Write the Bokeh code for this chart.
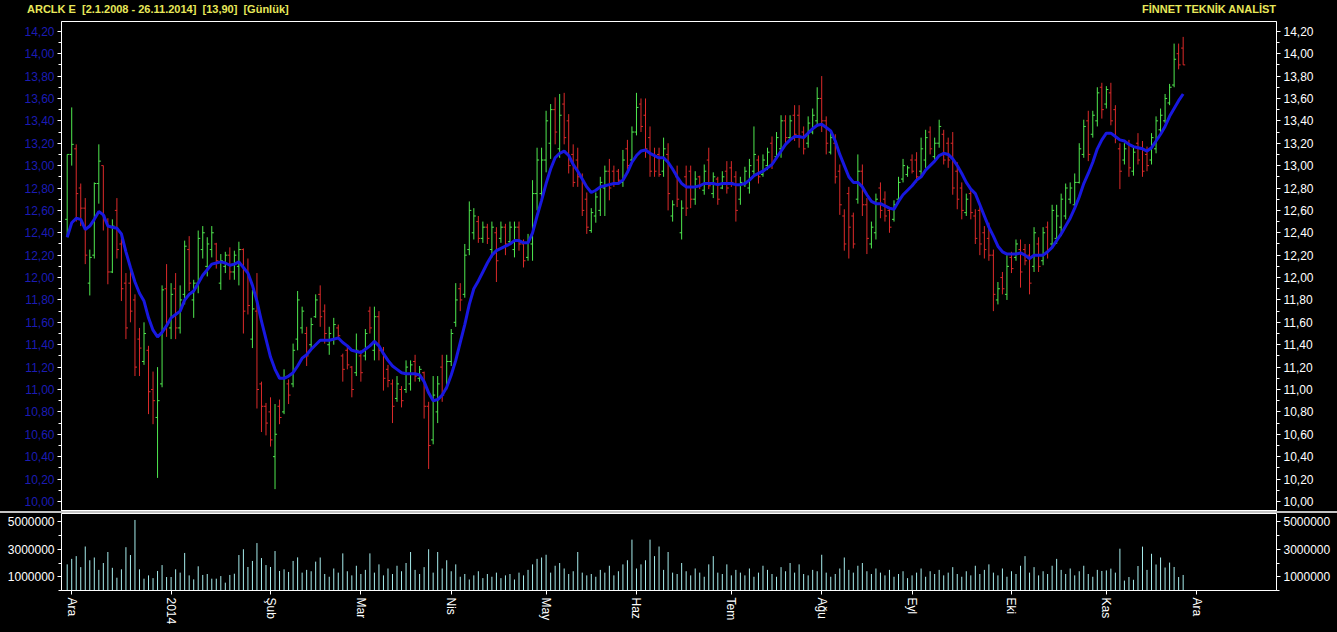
from bokeh.plotting import figure
from bokeh.models import ColumnDataSource, FixedTicker, LinearAxis, Div, Range1d
from bokeh.layouts import column
from bokeh.embed import file_html
from bokeh.resources import INLINE

# ---------------- data ----------------
opens = [
    12.52, 13.10, 13.15, 12.80, 12.62, 11.95, 12.20, 12.84, 13.00, 12.50,
    12.05, 12.60, 12.30, 11.95, 11.95, 11.80, 11.45, 11.25, 11.35, 11.00,
    10.75, 11.05, 11.90, 11.55, 11.90, 11.55, 11.85, 12.25, 11.80, 11.95,
    12.25, 12.10, 12.25, 12.30, 11.95, 12.10, 12.20, 12.05, 12.10, 12.25,
    12.05, 11.45, 11.70, 11.05, 10.85, 10.80, 10.40, 10.85, 10.80, 11.05,
    11.05, 11.45, 11.55, 11.50, 11.40, 11.65, 11.85, 11.70, 11.40, 11.45,
    11.55, 11.30, 11.35, 11.20, 11.15, 11.30, 11.30, 11.70, 11.35, 11.65,
    11.35, 11.18, 11.05, 10.92, 11.00, 11.00, 11.05, 11.25, 11.10, 11.15,
    10.85, 10.55, 10.80, 11.20, 11.00, 11.25, 11.60, 11.90, 11.85, 12.25,
    12.40, 12.50, 12.35, 12.45, 12.25, 12.40, 12.35, 12.45, 12.32, 12.25,
    12.45, 12.30, 12.18, 12.30, 12.75, 12.75, 13.05, 13.20, 13.50, 13.15,
    13.55, 13.40, 13.10, 13.05, 12.90, 12.70, 12.42, 12.55, 12.60, 12.80,
    12.95, 12.95, 12.95, 12.85, 13.15, 13.05, 13.30, 13.55, 13.45, 13.25,
    13.10, 13.10, 12.95, 13.10, 12.55, 12.90, 12.40, 12.90, 12.95, 12.70,
    12.90, 12.78, 13.05, 12.75, 12.88, 12.80, 12.95, 12.98, 12.90, 12.70,
    12.83, 12.80, 12.95, 13.05, 12.92, 13.00, 13.20, 13.08, 13.15, 13.40,
    13.25, 13.45, 13.45, 13.30, 13.20, 13.30, 13.40, 13.60, 13.40, 13.12,
    13.20, 12.95, 12.55, 12.75, 12.55, 12.70, 12.95, 12.65, 12.30, 12.40,
    12.80, 12.70, 12.60, 12.52, 12.70, 12.88, 12.92, 13.05, 13.05, 12.95,
    13.05, 13.30, 13.08, 13.20, 13.28, 13.20, 13.20, 12.95, 12.80, 12.58,
    12.75, 12.55, 12.60, 12.40, 12.35, 12.20, 11.80, 12.00, 11.85, 12.18,
    12.18, 12.25, 12.25, 12.20, 12.10, 12.30, 12.15, 12.45, 12.30, 12.35,
    12.45, 12.55, 12.70, 12.65, 12.85, 13.10, 13.40, 13.28, 13.40, 13.70,
    13.55, 13.65, 13.50, 13.15, 13.05, 13.20, 12.95, 13.20, 13.15, 13.10,
    13.05, 13.15, 13.32, 13.40, 13.56, 13.72, 14.00, 14.05,
]
highs = [
    13.10, 13.52, 13.19, 12.84, 12.71, 12.25, 12.85, 13.19, 13.00, 12.53,
    12.52, 12.71, 12.40, 12.04, 12.12, 11.85, 11.55, 11.60, 11.39, 11.16,
    11.20, 11.93, 12.12, 11.95, 12.04, 11.93, 12.33, 12.37, 11.98, 12.42,
    12.46, 12.36, 12.46, 12.31, 12.21, 12.23, 12.27, 12.24, 12.32, 12.26,
    12.17, 11.89, 12.04, 11.07, 10.88, 10.93, 10.87, 10.91, 11.18, 11.09,
    11.41, 11.88, 11.74, 11.56, 11.64, 11.85, 11.93, 11.76, 11.56, 11.64,
    11.58, 11.32, 11.38, 11.21, 11.50, 11.35, 11.54, 11.74, 11.74, 11.70,
    11.38, 11.22, 11.09, 11.12, 11.03, 11.26, 11.26, 11.31, 11.21, 11.16,
    10.89, 11.12, 11.12, 11.31, 11.31, 11.54, 11.95, 11.95, 12.30, 12.68,
    12.62, 12.55, 12.50, 12.48, 12.50, 12.45, 12.50, 12.48, 12.50, 12.50,
    12.50, 12.34, 12.39, 12.87, 13.16, 13.16, 13.49, 13.55, 13.61, 13.64,
    13.65, 13.46, 13.19, 13.16, 12.93, 12.76, 12.62, 12.76, 12.90, 13.00,
    13.06, 13.00, 12.97, 13.14, 13.23, 13.35, 13.65, 13.60, 13.60, 13.35,
    13.16, 13.16, 13.25, 13.20, 12.69, 13.00, 12.69, 13.00, 13.00, 12.95,
    12.91, 13.01, 13.16, 12.94, 12.90, 12.95, 13.04, 13.04, 12.95, 12.90,
    12.99, 13.06, 13.35, 13.09, 13.10, 13.16, 13.26, 13.30, 13.45, 13.45,
    13.45, 13.54, 13.54, 13.35, 13.44, 13.51, 13.70, 13.80, 13.44, 13.30,
    13.28, 13.01, 12.61, 12.81, 12.58, 13.10, 13.01, 12.71, 12.50, 12.75,
    12.85, 12.77, 12.63, 12.69, 12.90, 13.06, 13.00, 13.10, 13.12, 13.25,
    13.32, 13.35, 13.25, 13.41, 13.32, 13.25, 13.30, 13.03, 12.85, 12.75,
    12.79, 12.61, 12.65, 12.46, 12.49, 12.25, 11.96, 12.05, 12.20, 12.23,
    12.34, 12.34, 12.30, 12.30, 12.45, 12.36, 12.45, 12.50, 12.65, 12.65,
    12.75, 12.84, 12.85, 12.93, 13.20, 13.41, 13.49, 13.49, 13.70, 13.74,
    13.71, 13.74, 13.54, 13.20, 13.20, 13.23, 13.17, 13.29, 13.22, 13.17,
    13.29, 13.44, 13.51, 13.64, 13.73, 14.09, 14.09, 14.15,
]
lows = [
    12.36, 13.00, 12.50, 12.46, 12.12, 11.84, 12.17, 12.66, 12.42, 11.94,
    12.04, 12.17, 11.79, 11.45, 11.60, 11.12, 11.12, 11.22, 10.78, 10.69,
    10.21, 11.02, 11.47, 11.45, 11.45, 11.50, 11.76, 11.88, 11.64, 11.86,
    12.17, 12.01, 12.18, 12.08, 11.89, 12.04, 11.98, 11.98, 11.93, 11.50,
    11.67, 11.37, 10.83, 10.62, 10.59, 10.49, 10.11, 10.69, 10.78, 10.87,
    11.02, 11.35, 11.50, 11.21, 11.35, 11.64, 11.56, 11.41, 11.31, 11.40,
    11.45, 11.07, 11.18, 10.93, 11.12, 11.07, 11.26, 11.50, 11.26, 11.26,
    10.99, 11.02, 10.70, 10.89, 10.84, 10.97, 10.99, 11.07, 11.07, 10.74,
    10.29, 10.51, 10.70, 10.89, 11.00, 11.21, 11.56, 11.70, 11.82, 12.20,
    12.34, 12.31, 12.31, 12.30, 12.18, 11.96, 12.31, 12.20, 12.31, 12.18,
    12.24, 12.09, 12.15, 12.15, 12.60, 12.71, 12.94, 13.06, 13.19, 13.07,
    13.19, 12.93, 12.81, 12.81, 12.55, 12.39, 12.40, 12.49, 12.55, 12.55,
    12.69, 12.81, 12.84, 12.81, 12.95, 13.03, 13.27, 13.30, 13.07, 12.90,
    12.90, 12.90, 12.90, 12.60, 12.50, 12.63, 12.34, 12.55, 12.62, 12.65,
    12.79, 12.74, 12.79, 12.71, 12.65, 12.79, 12.75, 12.81, 12.50, 12.65,
    12.81, 12.75, 12.90, 12.84, 12.90, 12.96, 12.97, 13.06, 13.07, 13.20,
    13.23, 13.22, 13.16, 13.10, 13.16, 13.28, 13.35, 13.30, 13.10, 13.10,
    12.84, 12.56, 12.24, 12.17, 12.26, 12.66, 12.55, 12.21, 12.26, 12.34,
    12.53, 12.50, 12.40, 12.50, 12.66, 12.85, 12.90, 12.93, 12.85, 12.90,
    12.98, 13.10, 13.04, 13.16, 13.01, 12.98, 12.74, 12.61, 12.52, 12.55,
    12.52, 12.30, 12.20, 12.17, 12.15, 11.70, 11.76, 11.85, 11.80, 12.04,
    12.15, 11.91, 12.11, 11.85, 12.05, 12.05, 12.11, 12.17, 12.27, 12.30,
    12.37, 12.52, 12.66, 12.63, 12.84, 13.07, 13.04, 13.25, 13.35, 13.42,
    13.51, 13.36, 13.20, 12.79, 13.01, 12.90, 12.91, 13.01, 12.90, 12.95,
    13.01, 13.11, 13.30, 13.38, 13.54, 13.70, 13.86, 13.90,
]
closes = [
    13.10, 13.19, 12.75, 12.62, 12.20, 12.18, 12.84, 13.04, 12.55, 12.05,
    12.46, 12.25, 11.90, 11.55, 11.70, 11.20, 11.37, 11.50, 10.98, 10.90,
    10.90, 11.89, 11.60, 11.85, 11.55, 11.80, 12.28, 11.95, 11.95, 12.35,
    12.40, 12.30, 12.40, 12.15, 12.15, 12.20, 12.05, 12.20, 12.25, 11.70,
    11.75, 11.72, 11.00, 10.85, 10.70, 10.55, 10.60, 10.75, 11.10, 10.95,
    11.35, 11.80, 11.70, 11.30, 11.58, 11.80, 11.65, 11.50, 11.50, 11.58,
    11.48, 11.18, 11.22, 11.00, 11.35, 11.15, 11.50, 11.55, 11.65, 11.35,
    11.10, 11.08, 10.85, 11.05, 10.90, 11.20, 11.22, 11.12, 11.18, 10.85,
    10.50, 10.95, 11.05, 10.95, 11.25, 11.50, 11.80, 11.80, 12.20, 12.60,
    12.55, 12.35, 12.45, 12.35, 12.45, 12.15, 12.45, 12.30, 12.45, 12.45,
    12.30, 12.15, 12.32, 12.75, 13.05, 13.05, 13.40, 13.50, 13.30, 13.45,
    13.25, 13.00, 12.85, 12.90, 12.60, 12.45, 12.58, 12.72, 12.85, 12.95,
    12.80, 12.85, 12.87, 13.05, 13.00, 13.30, 13.52, 13.35, 13.15, 12.95,
    12.95, 12.92, 13.15, 12.75, 12.65, 12.70, 12.62, 12.62, 12.70, 12.88,
    12.82, 12.95, 12.82, 12.90, 12.70, 12.90, 12.80, 12.85, 12.60, 12.85,
    12.95, 13.00, 13.10, 12.90, 13.05, 13.12, 13.02, 13.25, 13.40, 13.25,
    13.40, 13.28, 13.25, 13.15, 13.38, 13.45, 13.60, 13.40, 13.20, 13.25,
    12.90, 12.65, 12.30, 12.45, 12.30, 12.95, 12.65, 12.35, 12.45, 12.70,
    12.60, 12.55, 12.45, 12.65, 12.85, 13.00, 12.98, 12.95, 12.90, 13.15,
    13.25, 13.15, 13.20, 13.35, 13.05, 13.05, 12.80, 12.70, 12.60, 12.70,
    12.58, 12.35, 12.30, 12.25, 12.20, 11.85, 11.90, 11.90, 12.10, 12.08,
    12.30, 12.05, 12.15, 11.95, 12.40, 12.10, 12.40, 12.25, 12.60, 12.55,
    12.70, 12.80, 12.80, 12.85, 13.15, 13.35, 13.10, 13.45, 13.65, 13.50,
    13.68, 13.40, 13.25, 12.95, 13.15, 12.98, 13.12, 13.05, 12.95, 13.00,
    13.25, 13.40, 13.45, 13.60, 13.70, 13.95, 13.90, 13.90,
]
moving_avg = [
    12.36, 12.49, 12.53, 12.52, 12.43, 12.46, 12.52, 12.59, 12.56, 12.46,
    12.45, 12.44, 12.39, 12.23, 12.09, 11.96, 11.86, 11.79, 11.64, 11.53,
    11.47, 11.51, 11.57, 11.64, 11.67, 11.70, 11.80, 11.85, 11.88, 11.95,
    12.02, 12.07, 12.12, 12.13, 12.14, 12.13, 12.11, 12.12, 12.14, 12.09,
    12.04, 11.93, 11.79, 11.61, 11.45, 11.29, 11.18, 11.10, 11.10, 11.12,
    11.15, 11.21, 11.28, 11.31, 11.36, 11.40, 11.44, 11.44, 11.44, 11.45,
    11.46, 11.42, 11.39, 11.35, 11.34, 11.33, 11.36, 11.39, 11.43, 11.39,
    11.32, 11.26, 11.21, 11.18, 11.15, 11.14, 11.14, 11.14, 11.13, 11.07,
    10.97, 10.90, 10.91, 10.95, 11.02, 11.13, 11.26, 11.42, 11.58, 11.76,
    11.90, 11.97, 12.05, 12.13, 12.20, 12.24, 12.26, 12.28, 12.30, 12.33,
    12.33, 12.31, 12.31, 12.40, 12.55, 12.69, 12.84, 12.97, 13.07, 13.11,
    13.13, 13.09, 13.01, 12.95, 12.88, 12.81, 12.76, 12.78, 12.81, 12.82,
    12.83, 12.84, 12.84, 12.87, 12.94, 13.03, 13.09, 13.13, 13.14, 13.11,
    13.09, 13.07, 13.07, 13.03, 12.97, 12.90, 12.84, 12.81, 12.81, 12.81,
    12.82, 12.84, 12.84, 12.84, 12.83, 12.84, 12.84, 12.84, 12.83, 12.83,
    12.84, 12.87, 12.91, 12.93, 12.95, 12.98, 13.01, 13.07, 13.13, 13.19,
    13.23, 13.26, 13.26, 13.25, 13.29, 13.33, 13.36, 13.37, 13.34, 13.31,
    13.22, 13.10, 13.00, 12.90, 12.85, 12.85, 12.81, 12.74, 12.68, 12.66,
    12.66, 12.64, 12.62, 12.61, 12.68, 12.74, 12.78, 12.82, 12.87, 12.90,
    12.96, 13.00, 13.04, 13.09, 13.11, 13.10, 13.06, 13.00, 12.93, 12.85,
    12.79, 12.75, 12.65, 12.55, 12.45, 12.37, 12.28, 12.23, 12.21, 12.21,
    12.21, 12.22, 12.20, 12.17, 12.20, 12.20, 12.20, 12.23, 12.27, 12.33,
    12.39, 12.46, 12.53, 12.62, 12.72, 12.84, 12.93, 13.03, 13.15, 13.23,
    13.29, 13.29, 13.26, 13.23, 13.22, 13.19, 13.17, 13.16, 13.15, 13.13,
    13.16, 13.22, 13.28, 13.35, 13.44, 13.51, 13.58, 13.64,
]
volume_millions = [
    1.90, 2.30, 2.50, 1.70, 3.20, 2.20, 2.40, 1.50, 2.00, 2.80,
    1.65, 0.93, 1.54, 3.15, 2.58, 5.13, 1.54, 0.86, 1.10, 0.90,
    1.42, 1.85, 0.98, 0.98, 1.54, 1.30, 2.73, 1.10, 0.81, 1.76,
    1.13, 1.20, 0.86, 0.86, 1.05, 0.57, 1.13, 1.22, 2.58, 3.00,
    1.71, 2.15, 3.45, 2.36, 1.85, 1.71, 2.87, 1.42, 1.54, 1.35,
    2.15, 2.41, 1.30, 1.50, 1.40, 2.10, 2.40, 1.20, 1.00, 1.60,
    1.30, 2.70, 1.40, 1.10, 1.80, 1.20, 1.50, 2.70, 1.30, 1.90,
    1.10, 1.60, 1.20, 1.80, 1.40, 2.00, 2.80, 1.50, 1.20, 1.70,
    3.00, 1.30, 2.80, 1.60, 2.20, 1.40, 1.90, 1.00, 1.20, 0.80,
    1.10, 1.40, 0.90, 1.20, 1.00, 1.30, 0.90, 1.10, 1.20, 0.80,
    1.30, 1.10, 1.50, 1.90, 2.30, 2.40, 2.60, 1.30, 1.80, 2.00,
    1.60, 1.20, 1.40, 2.80, 1.30, 1.10, 1.20, 1.00, 1.50, 1.30,
    1.80, 1.10, 1.40, 1.90, 2.20, 3.70, 1.60, 1.90, 2.20, 3.70,
    2.50, 3.20, 1.50, 2.80, 1.30, 1.20, 2.00, 1.40, 1.10, 1.60,
    1.30, 1.00, 1.90, 2.50, 1.30, 1.20, 1.90, 1.10, 1.50, 1.30,
    1.10, 1.60, 1.00, 1.30, 1.80, 1.50, 1.20, 1.00, 1.70, 1.40,
    2.00, 1.30, 1.90, 1.20, 1.10, 1.50, 1.40, 2.60, 1.30, 1.00,
    1.20, 1.60, 2.40, 1.50, 1.30, 1.80, 2.00, 1.40, 1.20, 1.60,
    1.30, 1.10, 1.50, 1.00, 1.20, 1.40, 0.90, 1.10, 1.30, 1.60,
    1.00, 1.40, 1.20, 1.50, 1.10, 1.30, 1.70, 1.20, 1.00, 1.40,
    1.10, 1.80, 1.20, 1.50, 1.90, 1.30, 1.10, 1.60, 1.00, 1.40,
    1.20, 1.80, 2.50, 1.30, 1.70, 1.10, 1.40, 1.20, 1.80, 2.30,
    1.50, 1.20, 1.60, 1.10, 1.40, 1.80, 1.20, 1.00, 1.50, 1.42,
    1.46, 1.59, 1.30, 3.04, 0.72, 0.98, 0.78, 1.78, 3.19, 1.50,
    2.67, 1.89, 2.40, 1.67, 2.03, 1.71, 0.98, 1.13,
]
month_ticks = [1, 23, 45, 65, 85, 106, 126, 147, 167, 187, 209, 230, 250]
month_labels = ["Ara", "2014", "Şub", "Mar", "Nis", "May", "Haz", "Tem",
                "Ağu", "Eyl", "Eki", "Kas", "Ara"]
price_ticks = [10.0, 10.2, 10.4, 10.6, 10.8, 11.0, 11.2, 11.4, 11.6, 11.8, 12.0,
               12.2, 12.4, 12.6, 12.8, 13.0, 13.2, 13.4, 13.6, 13.8, 14.0, 14.2]
price_tick_labels = ["10,00", "10,20", "10,40", "10,60", "10,80", "11,00", "11,20",
                     "11,40", "11,60", "11,80", "12,00", "12,20", "12,40", "12,60",
                     "12,80", "13,00", "13,20", "13,40", "13,60", "13,80", "14,00", "14,20"]
volume_ticks = [1, 3, 5]
volume_tick_labels = ["1000000", "3000000", "5000000"]
title_left = "ARCLK E&nbsp; [2.1.2008 - 26.11.2014]&nbsp; [13,90]&nbsp; [Günlük]"
title_right = "FİNNET TEKNİK ANALİST"

# ---------------- styling ----------------
GREEN = "#4fe84f"
RED = "#dc2a2a"
MA_BLUE = "#1818e0"
VOL_COLOR = "#a6ecec"
YELLOW = "#e8e85a"
AXIS_BLUE = "#1c1cb4"
FONT = "Liberation Sans"

n = len(closes)
assert len(opens) == n and len(highs) == n and len(lows) == n
assert len(moving_avg) == n and len(volume_millions) == n

xs = list(range(n))
colors = [GREEN if c >= o else RED for o, c in zip(opens, closes)]
src = ColumnDataSource(dict(
    x=xs, xl=[x - 0.45 for x in xs], xr=[x + 0.45 for x in xs],
    o=opens, h=highs, l=lows, c=closes, color=colors,
    ma=moving_avg, vol=volume_millions,
))

W = 1337
BL, BR = 61, 61
x_range = Range1d(-1.26, 267.66)


def style_y_axis(ax, label_color):
    ax.axis_line_color = "white"
    ax.major_tick_line_color = "white"
    ax.minor_tick_line_color = "white"
    ax.major_tick_out = 4
    ax.major_tick_in = 0
    ax.minor_tick_out = 3
    ax.minor_tick_in = 0
    ax.major_label_standoff = 3
    ax.major_label_text_color = label_color
    ax.major_label_text_font = FONT
    ax.major_label_text_font_size = "12px"


# ---------------- header (titles) ----------------
span_style = ("position:absolute; top:3px; white-space:nowrap; "
              "font-family:'Liberation Sans'; font-weight:bold; font-size:11px; "
              "line-height:12px; color:%s;" % YELLOW)
head = Div(
    text=('<div style="position:relative; width:%dpx; height:20px;">'
          '<span style="%s left:27px;">%s</span>'
          '<span style="%s right:%dpx;">%s</span></div>')
    % (W, span_style, title_left, span_style, W - 1276, title_right),
    width=W, height=20, margin=0,
    styles={"background-color": "black"},
)

# ---------------- price panel ----------------
p = figure(width=W, height=491, x_range=x_range, y_range=Range1d(9.91, 14.2875),
           output_backend="svg", toolbar_location=None,
           x_axis_location=None, y_axis_location="left",
           background_fill_color="black", border_fill_color="black",
           min_border_left=BL, min_border_right=BR, min_border_top=1,
           min_border_bottom=0)
p.grid.visible = False
p.outline_line_color = "white"
p.outline_line_width = 1

minor_price = [round(t + 0.1, 1) for t in price_ticks[:-1]]
price_overrides = {t: lab for t, lab in zip(price_ticks, price_tick_labels)}

p.yaxis.ticker = FixedTicker(ticks=price_ticks, minor_ticks=minor_price)
p.yaxis.major_label_overrides = price_overrides
style_y_axis(p.yaxis[0], AXIS_BLUE)

right_axis = LinearAxis(ticker=FixedTicker(ticks=price_ticks, minor_ticks=minor_price),
                        major_label_overrides=price_overrides)
style_y_axis(right_axis, "white")
p.add_layout(right_axis, "right")

p.segment(x0="x", y0="l", x1="x", y1="h", line_color="color", line_width=1, source=src)
p.segment(x0="xl", y0="o", x1="x", y1="o", line_color="color", line_width=1, source=src)
p.segment(x0="x", y0="c", x1="xr", y1="c", line_color="color", line_width=1, source=src)
p.line(x="x", y="ma", line_color=MA_BLUE, line_width=3, source=src)

# ---------------- separator ----------------
sep = Div(text="", width=W, height=2, margin=0, styles={"background-color": "#c4c4c4"})

# ---------------- volume panel ----------------
v = figure(width=W, height=119, x_range=x_range, y_range=Range1d(0, 5.6),
           output_backend="svg", toolbar_location=None,
           y_axis_location="left",
           background_fill_color="black", border_fill_color="black",
           min_border_left=BL, min_border_right=BR, min_border_top=0,
           min_border_bottom=42)
v.grid.visible = False
v.outline_line_color = "white"

vol_overrides = {t: lab for t, lab in zip(volume_ticks, volume_tick_labels)}
v.yaxis.ticker = FixedTicker(ticks=volume_ticks, minor_ticks=[0, 2, 4])
v.yaxis.major_label_overrides = vol_overrides
style_y_axis(v.yaxis[0], "white")
v_right = LinearAxis(ticker=FixedTicker(ticks=volume_ticks, minor_ticks=[0, 2, 4]),
                     major_label_overrides=vol_overrides)
style_y_axis(v_right, "white")
v.add_layout(v_right, "right")

xa = v.xaxis[0]
xa.ticker = FixedTicker(ticks=month_ticks)
xa.major_label_overrides = {t: lab for t, lab in zip(month_ticks, month_labels)}
xa.major_label_orientation = "vertical"
xa.axis_line_color = "white"
xa.major_tick_line_color = "white"
xa.minor_tick_line_color = None
xa.major_tick_out = 4
xa.major_tick_in = 0
xa.major_label_standoff = 3
xa.major_label_text_color = "white"
xa.major_label_text_font = FONT
xa.major_label_text_font_size = "12px"

v.segment(x0="x", y0=0, x1="x", y1="vol", line_color=VOL_COLOR, line_width=1, source=src)

layout = column(head, p, sep, v, spacing=0, styles={"background-color": "black"})

html = file_html(layout, INLINE, title="ARCLK E")
html = html.replace("<body>", "<body style=\"background-color: black;\">")
open("out.html", "w").write(html)
